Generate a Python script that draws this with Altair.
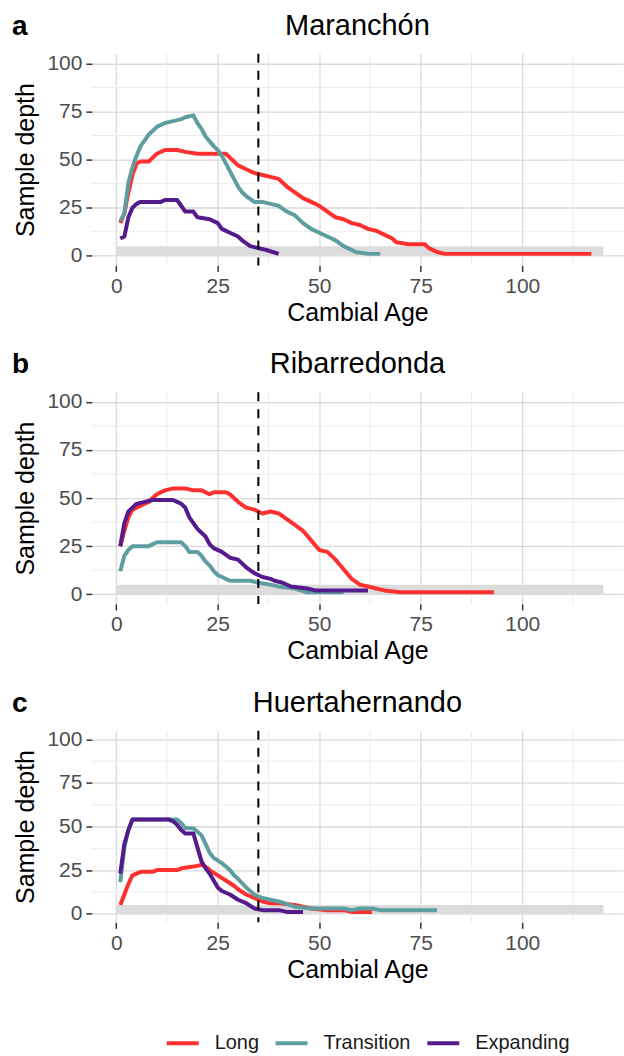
import altair as alt
import pandas as pd

FONT = "Liberation Sans"

groups = ["Long", "Transition", "Expanding"]
group_colors = ["#FF3030", "#5F9EA0", "#551A8B"]

sites = ["Maranchón", "Ribarredonda", "Huertahernando"]
letters = ["a", "b", "c"]

# ---- panel a : Maranchón ----
a_long_age = [1, 2, 3, 4, 5, 6, 8, 9, 10, 12, 15, 17, 20, 24, 27, 28, 29, 30, 32, 34, 36, 38, 40, 42, 44, 46, 48,
              50, 52, 54, 56, 58, 60, 62, 64, 66, 68, 69, 72, 76, 77, 79, 81, 117]
a_long_depth = [17, 22, 33, 42, 48, 49, 49, 51, 53, 55, 55, 54, 53, 53, 53, 51, 49, 47, 45, 43, 42, 41, 40, 36, 33,
                30, 28, 26, 23, 20, 19, 17, 16, 14, 13, 11, 9, 7, 6, 6, 4, 2, 1, 1]
a_trans_age = [1, 2, 3, 4, 5, 6, 7, 8, 9, 10, 12, 14, 16, 17, 19, 20, 21, 22, 24, 25, 26, 27, 28, 29, 30, 31, 32,
               34, 36, 38, 40, 42, 44, 46, 48, 50, 52, 54, 56, 58, 59, 62, 65]
a_trans_depth = [18, 22, 38, 46, 52, 57, 60, 63, 65, 67, 69, 70, 71, 72, 73, 69, 66, 62, 57, 55, 52, 48, 44, 40, 36,
                 33, 31, 28, 28, 27, 26, 23, 21, 17, 14, 12, 10, 8, 5, 3, 2, 1, 1]
a_exp_age = [1, 2, 3, 4, 5, 6, 11, 12, 15, 16, 17, 19, 20, 23, 25, 26, 28, 30, 31, 33, 35, 37, 40]
a_exp_depth = [9, 10, 20, 25, 27, 28, 28, 29, 29, 26, 23, 23, 20, 19, 17, 14, 12, 10, 8, 5, 4, 3, 1]

# ---- panel b : Ribarredonda ----
b_long_age = [1, 2, 3, 4, 6, 8, 9, 10, 12, 14, 17, 19, 21, 23, 24, 27, 28, 29, 30, 32, 34, 36, 38, 40, 42, 44, 46,
              48, 50, 52, 54, 56, 58, 60, 62, 64, 66, 70, 93]
b_long_depth = [25, 33, 40, 44, 46, 48, 50, 52, 54, 55, 55, 54, 54, 52, 53, 53, 52, 50, 48, 45, 44, 42, 43, 42, 39,
                36, 33, 28, 23, 22, 18, 13, 8, 5, 4, 3, 2, 1, 1]
b_trans_age = [1, 2, 3, 4, 8, 10, 12, 16, 17, 18, 20, 21, 22, 23, 24, 25, 26, 28, 33, 35, 38, 40, 44, 47, 56]
b_trans_depth = [12, 20, 23, 25, 25, 27, 27, 27, 25, 22, 22, 20, 17, 15, 12, 10, 9, 7, 7, 6, 5, 4, 3, 1, 1]
b_exp_age = [1, 2, 3, 4, 5, 7, 9, 14, 15, 16, 17, 18, 19, 20, 21, 22, 23, 24, 26, 28, 30, 32, 34, 36, 38, 39, 41,
             43, 47, 49, 62]
b_exp_depth = [25, 37, 43, 45, 47, 48, 49, 49, 48, 47, 45, 40, 37, 34, 32, 30, 26, 24, 22, 19, 18, 14, 11, 9, 8, 7,
               6, 4, 3, 2, 2]

# ---- panel c : Huertahernando ----
c_long_age = [1, 2, 3, 4, 6, 9, 10, 15, 16, 19, 21, 22, 23, 25, 27, 29, 30, 32, 34, 36, 38, 40, 44, 46, 48, 52, 56,
              58, 63]
c_long_depth = [5, 11, 17, 22, 24, 24, 25, 25, 26, 27, 28, 27, 25, 22, 19, 16, 14, 11, 9, 7, 6, 6, 5, 4, 3, 2, 2,
                1, 1]
c_trans_age = [1, 2, 3, 4, 15, 16, 17, 19, 21, 22, 23, 24, 26, 28, 29, 30, 32, 34, 36, 38, 40, 44, 48, 56, 58, 60,
               63, 65, 79]
c_trans_depth = [18, 38, 48, 54, 54, 52, 49, 49, 45, 40, 35, 32, 29, 25, 22, 20, 15, 11, 9, 8, 7, 4, 3, 3, 2, 3, 3,
                 2, 2]
c_exp_age = [1, 2, 3, 4, 12, 13, 14, 15, 16, 17, 19, 20, 21, 22, 23, 24, 25, 26, 28, 30, 32, 34, 36, 40, 42, 46]
c_exp_depth = [23, 40, 48, 54, 54, 54, 53, 51, 48, 46, 46, 38, 30, 26, 23, 19, 15, 13, 11, 8, 6, 3, 2, 2, 1, 1]

series = {
    sites[0]: [(a_long_age, a_long_depth), (a_trans_age, a_trans_depth), (a_exp_age, a_exp_depth)],
    sites[1]: [(b_long_age, b_long_depth), (b_trans_age, b_trans_depth), (b_exp_age, b_exp_depth)],
    sites[2]: [(c_long_age, c_long_depth), (c_trans_age, c_trans_depth), (c_exp_age, c_exp_depth)],
}

x_major = [0, 25, 50, 75, 100]
x_minor = [12.5, 37.5, 62.5, 87.5, 112.5]
y_major = [0, 25, 50, 75, 100]
y_minor = [12.5, 37.5, 62.5, 87.5]
band_x = [0, 120]
band_y = [0, 5]
split_age = [35]

rows = []
for site, lst in series.items():
    for g, (ages, depths) in zip(groups, lst):
        for a, d in zip(ages, depths):
            rows.append({"site": site, "group": g, "age": a, "depth": d})
df = pd.DataFrame(rows)

xs = alt.Scale(domain=[-6, 124.8], nice=False, zero=False)
ys = alt.Scale(domain=[-5, 105], nice=False, zero=False)
x_axis = alt.Axis(values=x_major, title="Cambial Age", titlePadding=4)
y_axis = alt.Axis(values=y_major, title="Sample depth", titlePadding=8)


def X(f):
    return alt.X(f, type="quantitative", scale=xs, axis=x_axis)


def Y(f):
    return alt.Y(f, type="quantitative", scale=ys, axis=y_axis)


color_enc = alt.Color(
    "group:N",
    scale=alt.Scale(domain=groups, range=group_colors),
    legend=alt.Legend(title=None, orient="none", legendX=73, legendY=973, direction="horizontal",
                      symbolType="stroke", symbolSize=1024, symbolStrokeWidth=4,
                      labelFontSize=20, labelFont=FONT, labelColor="#1A1A1A",
                      labelOffset=14, columnPadding=8, padding=0),
)


def panel(i, height):
    site = sites[i]
    d = df[df.site == site]
    minor_v = alt.Chart(pd.DataFrame({"x": x_minor})).mark_rule(color="#EBEBEB", strokeWidth=1).encode(x=X("x"))
    minor_h = alt.Chart(pd.DataFrame({"y": y_minor})).mark_rule(color="#EBEBEB", strokeWidth=1).encode(y=Y("y"))
    band = alt.Chart(pd.DataFrame({"x0": [band_x[0]], "x1": [band_x[1]], "y0": [band_y[0]], "y1": [band_y[1]]})
                     ).mark_rect(color="#DCDCDC").encode(x=X("x0"), x2="x1", y=Y("y0"), y2="y1")
    lines = alt.Chart(d).mark_line(strokeWidth=4, strokeJoin="round").encode(
        x=X("age"), y=Y("depth"), color=color_enc)
    vline = alt.Chart(pd.DataFrame({"x": split_age})).mark_rule(
        color="black", strokeWidth=2, strokeDash=[9, 8]).encode(x=X("x"))
    letter = alt.Chart(pd.DataFrame({"t": [letters[i]]})).mark_text(
        font=FONT, fontSize=28, fontWeight="bold", align="left", baseline="alphabetic", color="black"
    ).encode(text="t:N", x=alt.value(-80), y=alt.value(-19))
    title = alt.Chart(pd.DataFrame({"t": [site]})).mark_text(
        font=FONT, fontSize=29, fontWeight="normal", align="center", baseline="alphabetic", color="black"
    ).encode(text="t:N", x=alt.value(266), y=alt.value(-19))
    layers = [minor_v, minor_h, band, lines, vline, letter, title]
    return alt.layer(*layers).properties(width=532, height=height)


chart = alt.vconcat(panel(0, 212), panel(1, 212), panel(2, 192), spacing=25).configure(
    padding={"left": 12, "top": 11, "right": 0, "bottom": 0},
    font=FONT,
).configure_view(stroke=None).configure_axis(
    labelFont=FONT, labelFontSize=21, labelColor="#4D4D4D", labelPadding=4,
    titleFont=FONT, titleFontSize=25, titleFontWeight="normal", titleColor="black",
    tickColor="#333333", tickSize=6, tickWidth=1.5, domain=False,
    gridColor="#D9D9D9", gridWidth=1.3,
)

chart.save("out.html", embed_options={"renderer": "svg", "actions": False})
